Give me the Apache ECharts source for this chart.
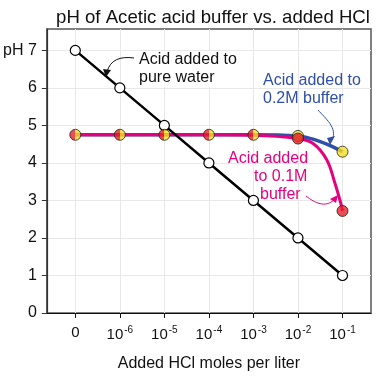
<!DOCTYPE html>
<html>
<head>
<meta charset="utf-8">
<script src="https://cdn.jsdelivr.net/npm/echarts@6/dist/echarts.min.js"></script>
<style>
  html, body { margin: 0; padding: 0; background: #fff; }
  #chart { width: 376px; height: 377px; }
</style>
</head>
<body>
<div id="chart"></div>
<script>
// x positions are category indexes: 0, 1e-6 ... 1e-1
const xTicks = [0, 1, 2, 3, 4, 5, 6]
const xTickLabels = ['0', '-6', '-5', '-4', '-3', '-2', '-1']
const yTicks = [0, 1, 2, 3, 4, 5, 6, 7]

const pureWater = [7, 6, 5, 4, 3, 2, 1]
const buffer02 = [4.75, 4.75, 4.75, 4.75, 4.75, 4.72, 4.3]
const buffer01 = [4.75, 4.75, 4.75, 4.75, 4.75, 4.65, 2.72]
const curve02X = [0, 1, 2, 3, 4, 5, 5.25, 5.5, 5.75, 6]
const curve02Y = [4.75, 4.75, 4.75, 4.75, 4.75, 4.72, 4.66, 4.57, 4.45, 4.3]
const curve01X = [0, 1, 2, 3, 4, 5, 5.34, 5.64, 5.82, 5.97, 6]
const curve01Y = [4.75, 4.75, 4.75, 4.75, 4.74, 4.65, 4.52, 4.1, 3.5, 2.89, 2.72]

const RED = '#e8202a'
const YELLOW = '#f5e020'
const PINK = '#e6007e'
const BLUE = '#2f4fa8'
const FONT = 'Liberation Sans'

const halfFill = new echarts.graphic.LinearGradient(0, 0, 1, 0, [
  { offset: 0, color: RED },
  { offset: 0.5, color: RED },
  { offset: 0.5, color: YELLOW },
  { offset: 1, color: YELLOW }
])

const pairs = (xs, ys) => xs.map((x, i) => [x, ys[i]])

const chart = echarts.init(document.getElementById('chart'))

chart.setOption({
  animation: false,
  textStyle: { fontFamily: FONT },
  title: {
    text: 'pH of Acetic acid buffer vs. added HCl',
    left: 208,
    textAlign: 'center',
    top: 3,
    textStyle: { fontFamily: FONT, fontSize: 18.6, fontWeight: 'normal', color: '#111' }
  },
  grid: {
    left: 45,
    right: 5,
    top: 29,
    bottom: 55,
    show: true,
    borderColor: '#555',
    borderWidth: 1.5
  },
  xAxis: {
    type: 'value',
    min: -0.64,
    max: 6.64,
    name: 'Added HCl moles per liter',
    nameLocation: 'middle',
    nameGap: 43,
    nameTextStyle: { fontFamily: FONT, fontSize: 16, color: '#111' },
    axisLine: { onZero: false, lineStyle: { color: '#111', width: 1.2 } },
    axisTick: { customValues: xTicks, length: 5, lineStyle: { color: '#111' } },
    splitLine: { show: true, lineStyle: { color: '#e8e8e8', width: 1 } },
    axisLabel: {
      customValues: xTicks,
      margin: 12,
      formatter: v => {
        const i = Math.round(v)
        return i === 0 ? '{b|0}' : '{b|10}{s|' + xTickLabels[i] + '}'
      },
      rich: {
        b: { fontFamily: FONT, fontSize: 15, color: '#111', verticalAlign: 'bottom' },
        s: { fontFamily: FONT, fontSize: 10, color: '#111', verticalAlign: 'bottom', padding: [0, 0, 7, 1] }
      }
    }
  },
  yAxis: {
    type: 'value',
    min: 0,
    max: 7.57,
    axisLine: { show: true, onZero: false, lineStyle: { color: '#333', width: 1.2 } },
    axisTick: { show: true, customValues: yTicks, length: 5, lineStyle: { color: '#333' } },
    splitLine: { show: true, lineStyle: { color: '#e8e8e8', width: 1 } },
    axisLabel: {
      customValues: yTicks,
      margin: 10,
      fontFamily: FONT,
      fontSize: 16,
      color: '#111',
      formatter: v => (v === 7 ? 'pH 7' : String(v))
    }
  },
  series: [
    {
      type: 'line',
      data: pairs(curve02X, curve02Y),
      smooth: 0.4,
      showSymbol: false,
      lineStyle: { color: BLUE, width: 3.5 },
      z: 3
    },
    {
      type: 'line',
      data: pairs(curve01X, curve01Y),
      smooth: 0.4,
      showSymbol: false,
      lineStyle: { color: PINK, width: 3 },
      z: 4
    },
    {
      type: 'line',
      data: pairs(xTicks, pureWater),
      symbol: 'circle',
      symbolSize: 10,
      lineStyle: { color: '#000', width: 2.5 },
      itemStyle: { color: '#fff', borderColor: '#000', borderWidth: 1.2 },
      z: 5
    },
    {
      type: 'scatter',
      data: pairs(xTicks.slice(0, 5), buffer01.slice(0, 5)),
      symbolSize: 11,
      itemStyle: { color: halfFill, borderColor: '#222', borderWidth: 1 },
      z: 6
    },
    {
      type: 'scatter',
      data: pairs(xTicks.slice(5), buffer02.slice(5)),
      symbolSize: 11,
      itemStyle: { color: YELLOW, borderColor: '#222', borderWidth: 1 },
      z: 6
    },
    {
      type: 'scatter',
      data: pairs(xTicks.slice(5), buffer01.slice(5)),
      symbolSize: 11,
      itemStyle: { color: RED, borderColor: '#222', borderWidth: 1 },
      z: 7
    }
  ],
  graphic: [
    {
      type: 'text', left: 139, top: 51, z: 20,
      style: { text: 'Acid added to\npure water', fontFamily: FONT, fontSize: 16, lineHeight: 18, fill: '#111', backgroundColor: '#fff' }
    },
    {
      type: 'bezierCurve', z: 20,
      shape: { x1: 134, y1: 58, cpx1: 120, cpy1: 56, cpx2: 110, cpy2: 60, x2: 107, y2: 72 },
      style: { stroke: '#111', lineWidth: 1, fill: null }
    },
    {
      type: 'polygon', z: 20,
      shape: { points: [[103, 69], [111, 70], [106, 77]] },
      style: { fill: '#111' }
    },
    {
      type: 'text', left: 263, top: 72, z: 20,
      style: { text: 'Acid added to\n0.2M buffer', fontFamily: FONT, fontSize: 16, lineHeight: 18, fill: BLUE }
    },
    {
      type: 'bezierCurve', z: 20,
      shape: { x1: 318, y1: 110, cpx1: 325, cpy1: 118, cpx2: 338, cpy2: 128, x2: 332, y2: 140 },
      style: { stroke: BLUE, lineWidth: 1, fill: null }
    },
    {
      type: 'polygon', z: 20,
      shape: { points: [[327, 138], [335, 136], [330, 145]] },
      style: { fill: BLUE }
    },
    {
      type: 'text', left: 228, top: 150, z: 20,
      style: { text: 'Acid added', fontFamily: FONT, fontSize: 16, lineHeight: 18, fill: PINK }
    },
    {
      type: 'text', left: 254, top: 168, z: 20,
      style: { text: 'to 0.1M', fontFamily: FONT, fontSize: 16, lineHeight: 18, fill: PINK }
    },
    {
      type: 'text', left: 260, top: 186, z: 20,
      style: { text: 'buffer', fontFamily: FONT, fontSize: 16, lineHeight: 18, fill: PINK }
    },
    {
      type: 'bezierCurve', z: 20,
      shape: { x1: 306, y1: 196, cpx1: 315, cpy1: 203, cpx2: 325, cpy2: 208, x2: 334, y2: 200 },
      style: { stroke: PINK, lineWidth: 1, fill: null }
    },
    {
      type: 'polygon', z: 20,
      shape: { points: [[330, 199], [336, 203], [338, 195]] },
      style: { fill: PINK }
    }
  ]
})
</script>
</body>
</html>
